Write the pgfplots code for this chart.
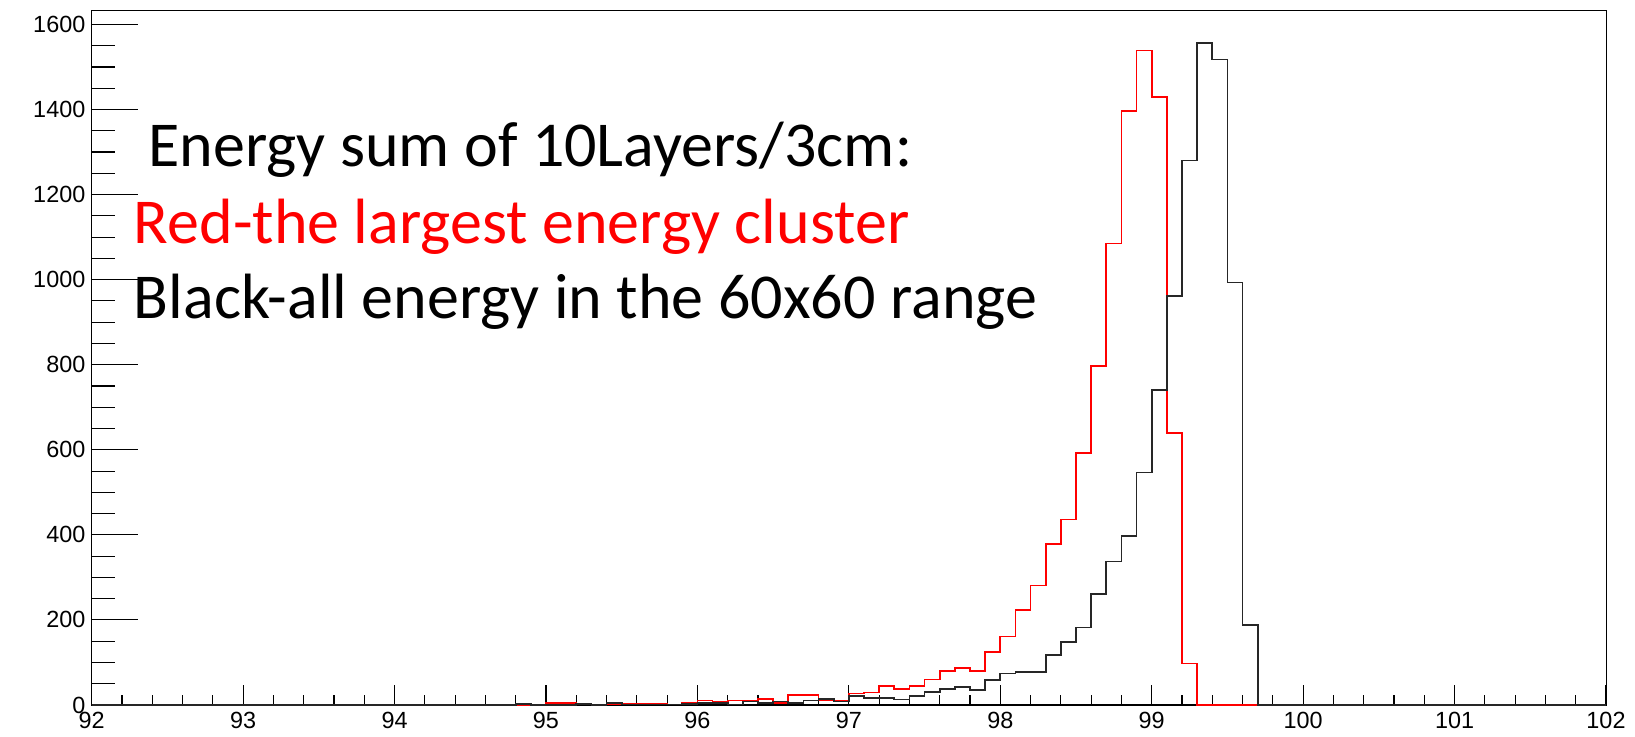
\documentclass[border=0pt]{standalone}
\usepackage{pgfplots}
\usepackage{pgfplotstable}
\pgfplotsset{compat=1.18}
\usepackage{fontspec}
\setmainfont{Liberation Sans}
\setsansfont{Liberation Sans}
\newfontfamily\calibri{Carlito}

% Bin contents, 0.1 wide bins from 92 to 102 (left edges)
\pgfplotstableread{
x     red   black
92.0  1     0
92.1  0     0
92.2  1     0
92.3  0     0
92.4  0     0
92.5  0     0
92.6  0     0
92.7  1     0
92.8  0     0
92.9  1     0
93.0  1     0
93.1  1     0
93.2  0     0
93.3  0     0
93.4  0     0
93.5  0     0
93.6  0     0
93.7  1     0
93.8  1     0
93.9  1     0
94.0  0     0
94.1  0     0
94.2  0     0
94.3  0     0
94.4  0     0
94.5  0     0
94.6  0     0
94.7  0     0
94.8  0     3
94.9  0     0
95.0  4     0
95.1  4     0
95.2  1     2
95.3  0     0
95.4  3     5
95.5  2     1
95.6  2     1
95.7  2     1
95.8  1     1
95.9  4     2
96.0  11    5
96.1  8     5
96.2  11    1
96.3  11    8
96.4  14    5
96.5  5     8
96.6  23    5
96.7  23    11
96.8  11    14
96.9  11    8
97.0  27    21
97.1  29    17
97.2  45    17
97.3  38    13
97.4  45    21
97.5  60    31
97.6  80    38
97.7  87    42
97.8  80    35
97.9  125   59
98.0  161   74
98.1  224   77
98.2  281   78
98.3  379   118
98.4  436   148
98.5  593   182
98.6  797   261
98.7  1085  337
98.8  1397  398
98.9  1539  547
99.0  1429  740
99.1  640   961
99.2  98    1280
99.3  0     1557
99.4  0     1518
99.5  0     993
99.6  0     188
99.7  0     0
99.8  0     0
99.9  0     0
100.0 0     0
100.1 0     0
100.2 0     0
100.3 0     0
100.4 0     0
100.5 0     0
100.6 0     0
100.7 0     0
100.8 0     0
100.9 0     0
101.0 0     0
101.1 0     0
101.2 0     0
101.3 0     0
101.4 0     0
101.5 0     0
101.6 0     0
101.7 0     0
101.8 0     0
101.9 0     0
102.0 0     0
}\energyhist

\begin{document}
\begin{tikzpicture}
\useasboundingbox (-45.85pt,-16pt) rectangle (771.65pt,352.5pt);
\begin{axis}[
  scale only axis,
  anchor=south west,
  at={(0pt,0pt)},
  width=757.15pt, height=347.5pt,
  xmin=92, xmax=102,
  ymin=0, ymax=1634,
  xtick={92,93,...,102},
  ytick={0,200,...,1600},
  minor x tick num=4,
  minor y tick num=3,
  xtick pos=bottom,
  ytick pos=left,
  tick align=inside,
  xticklabel={$\mathsf{\pgfmathprintnumber{\tick}}$},
  yticklabel={$\mathsf{\pgfmathprintnumber{\tick}}$},
  xticklabel style={font=\fontsize{11.7}{14}\selectfont, anchor=north, inner sep=0pt, yshift=-3.2pt},
  yticklabel style={font=\fontsize{11.7}{14}\selectfont, anchor=east, inner sep=0pt, xshift=-3pt},
  /pgf/number format/1000 sep={},
  clip=false,
  x tick style={black, line width=0.55pt,
    /pgfplots/major tick length=10pt, /pgfplots/minor tick length=5pt},
  y tick style={black, line width=0.55pt,
    /pgfplots/major tick length=23pt, /pgfplots/minor tick length=11.5pt},
]
\draw[black, line width=1.2pt] (rel axis cs:0,0) -- (rel axis cs:1,0);
\addplot[const plot, red, line width=0.8pt] table[x=x, y=red] {\energyhist};
\addplot[const plot, black!85, line width=0.8pt] table[x=x, y=black] {\energyhist};

\node[anchor=base west, inner sep=0pt, font=\calibri\fontsize{32}{38}\selectfont]
  at (axis cs:92.276,1266) {\hspace*{0.226em}Energy sum of 10Layers/3cm:};
\node[anchor=base west, inner sep=0pt, text=red, font=\calibri\fontsize{32}{38}\selectfont]
  at (axis cs:92.276,1086) {Red-the largest energy cluster};
\node[anchor=base west, inner sep=0pt, font=\calibri\fontsize{32}{38}\selectfont]
  at (axis cs:92.276,909) {Black-all energy in the 60x60 range};
\end{axis}
\end{tikzpicture}
\end{document}
